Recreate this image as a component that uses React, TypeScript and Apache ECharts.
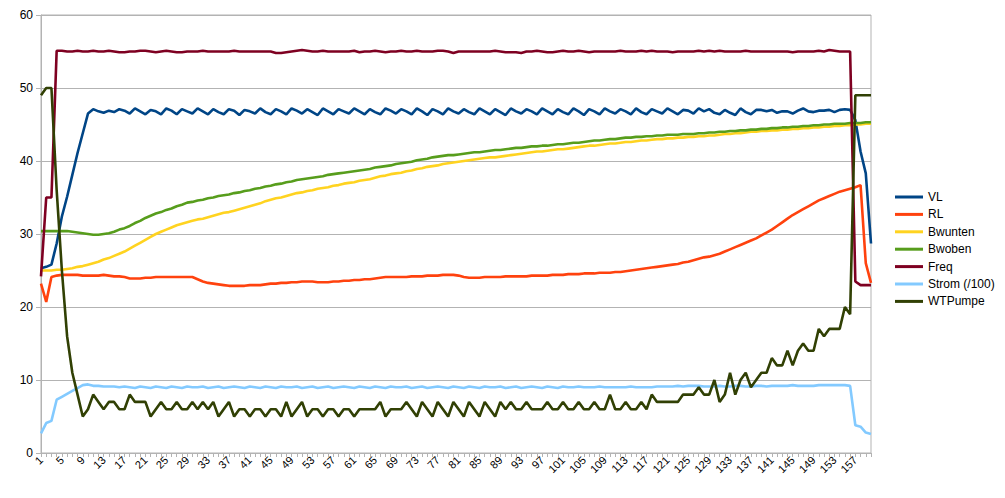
import React, { useEffect, useRef } from 'react';
import * as echarts from 'echarts';

const categories: string[] = Array.from({ length: 160 }, (_, i) => String(i + 1));

const VL = [
  25.3, 25.5, 25.8, 28.7, 32.4, 35.1, 38.1, 41.1, 43.8, 46.5,
  47.1, 46.8, 46.6, 46.9, 46.7, 47.1, 46.9, 46.5, 47.2, 46.8,
  46.4, 47.0, 46.8, 46.4, 47.2, 46.9, 46.4, 47.1, 46.8, 46.5,
  47.2, 46.8, 46.4, 47.1, 46.7, 46.4, 47.1, 46.9, 46.3, 47.0,
  46.8, 46.5, 47.2, 46.7, 46.4, 47.1, 46.8, 46.4, 47.2, 46.9,
  46.5, 47.1, 46.7, 46.3, 47.2, 46.8, 46.4, 47.1, 46.8, 46.5,
  47.2, 46.8, 46.4, 47.1, 46.7, 46.4, 47.2, 46.9, 46.5, 47.1,
  46.8, 46.4, 47.2, 46.8, 46.3, 47.1, 46.8, 46.4, 47.2, 46.8,
  46.5, 47.1, 46.7, 46.4, 47.2, 46.8, 46.4, 47.1, 46.7, 46.3,
  47.2, 46.8, 46.5, 47.1, 46.8, 46.4, 47.2, 46.8, 46.4, 47.1,
  46.7, 46.4, 47.2, 46.8, 46.3, 47.1, 46.8, 46.4, 47.2, 46.8,
  46.5, 47.1, 46.8, 46.4, 47.2, 46.7, 46.4, 47.1, 46.8, 46.5,
  47.2, 46.8, 46.4, 47.0, 46.9, 46.5, 47.2, 46.8, 47.1, 46.6,
  46.4, 47.0, 46.6, 46.3, 47.2, 46.7, 46.4, 47.0, 47.0, 46.8,
  47.0, 46.6, 46.8, 46.8, 46.5, 46.9, 47.2, 46.8, 46.7, 46.9,
  46.9, 47.0, 46.7, 47.0, 47.1, 47.0, 45.6, 41.3, 38.3, 28.7,
];

const RL = [
  23.2, 20.7, 24.1, 24.3, 24.4, 24.4, 24.4, 24.4, 24.3, 24.3,
  24.3, 24.3, 24.4, 24.3, 24.2, 24.2, 24.1, 23.9, 23.9, 23.9,
  24.0, 24.0, 24.1, 24.1, 24.1, 24.1, 24.1, 24.1, 24.1, 24.1,
  23.8, 23.5, 23.3, 23.2, 23.1, 23.0, 22.9, 22.9, 22.9, 22.9,
  23.0, 23.0, 23.0, 23.1, 23.2, 23.2, 23.3, 23.3, 23.4, 23.4,
  23.5, 23.5, 23.5, 23.4, 23.4, 23.4, 23.5, 23.5, 23.6, 23.6,
  23.7, 23.7, 23.8, 23.8, 23.9, 24.0, 24.1, 24.1, 24.1, 24.1,
  24.1, 24.2, 24.2, 24.2, 24.3, 24.3, 24.3, 24.4, 24.4, 24.4,
  24.3, 24.1, 24.0, 24.0, 24.0, 24.1, 24.1, 24.1, 24.1, 24.2,
  24.2, 24.2, 24.2, 24.2, 24.3, 24.3, 24.3, 24.3, 24.4, 24.4,
  24.4, 24.5, 24.5, 24.5, 24.6, 24.6, 24.6, 24.7, 24.7, 24.7,
  24.8, 24.8, 24.9, 25.0, 25.1, 25.2, 25.3, 25.4, 25.5, 25.6,
  25.7, 25.8, 25.9, 26.1, 26.2, 26.4, 26.6, 26.8, 26.9, 27.1,
  27.3, 27.6, 27.9, 28.2, 28.5, 28.8, 29.1, 29.4, 29.8, 30.2,
  30.6, 31.1, 31.6, 32.1, 32.6, 33.0, 33.4, 33.8, 34.2, 34.6,
  34.9, 35.2, 35.5, 35.8, 36.0, 36.2, 36.4, 36.7, 26.0, 23.3,
];

const Bwunten = [
  25.0, 25.0, 25.0, 25.1, 25.1, 25.2, 25.3, 25.5, 25.6, 25.8,
  26.0, 26.2, 26.5, 26.7, 27.0, 27.3, 27.6, 28.0, 28.4, 28.8,
  29.2, 29.6, 30.0, 30.3, 30.6, 30.9, 31.2, 31.4, 31.6, 31.8,
  32.0, 32.1, 32.3, 32.5, 32.7, 32.9, 33.0, 33.2, 33.4, 33.6,
  33.8, 34.0, 34.2, 34.5, 34.7, 34.9, 35.0, 35.2, 35.4, 35.6,
  35.7, 35.9, 36.0, 36.2, 36.3, 36.4, 36.6, 36.7, 36.9, 37.0,
  37.1, 37.3, 37.4, 37.5, 37.7, 37.9, 38.0, 38.2, 38.3, 38.4,
  38.6, 38.7, 38.9, 39.0, 39.2, 39.3, 39.4, 39.6, 39.7, 39.8,
  39.9, 40.0, 40.1, 40.2, 40.3, 40.4, 40.5, 40.5, 40.6, 40.7,
  40.8, 40.9, 41.0, 41.1, 41.2, 41.3, 41.3, 41.4, 41.5, 41.6,
  41.6, 41.7, 41.8, 41.9, 42.0, 42.1, 42.1, 42.2, 42.3, 42.4,
  42.4, 42.5, 42.6, 42.6, 42.7, 42.8, 42.8, 42.9, 43.0, 43.0,
  43.1, 43.1, 43.2, 43.2, 43.3, 43.3, 43.4, 43.4, 43.5, 43.5,
  43.6, 43.7, 43.7, 43.8, 43.8, 43.9, 44.0, 44.0, 44.1, 44.1,
  44.2, 44.2, 44.3, 44.3, 44.4, 44.4, 44.5, 44.5, 44.6, 44.6,
  44.7, 44.7, 44.8, 44.8, 44.9, 44.9, 45.0, 45.0, 45.1, 45.1,
];

const Bwoben = [
  30.4, 30.4, 30.4, 30.4, 30.4, 30.4, 30.3, 30.2, 30.1, 30.0,
  29.9, 29.9, 30.0, 30.1, 30.3, 30.6, 30.8, 31.1, 31.5, 31.8,
  32.2, 32.5, 32.8, 33.0, 33.3, 33.5, 33.8, 34.0, 34.3, 34.4,
  34.6, 34.7, 34.9, 35.0, 35.2, 35.3, 35.4, 35.6, 35.7, 35.9,
  36.0, 36.2, 36.3, 36.5, 36.6, 36.8, 36.9, 37.1, 37.2, 37.4,
  37.5, 37.6, 37.7, 37.8, 37.9, 38.1, 38.2, 38.3, 38.4, 38.5,
  38.6, 38.7, 38.8, 38.9, 39.1, 39.2, 39.3, 39.4, 39.6, 39.7,
  39.8, 39.9, 40.1, 40.2, 40.3, 40.5, 40.6, 40.7, 40.8, 40.8,
  40.9, 41.0, 41.1, 41.2, 41.2, 41.3, 41.4, 41.5, 41.5, 41.6,
  41.7, 41.8, 41.8, 41.9, 42.0, 42.0, 42.1, 42.1, 42.2, 42.3,
  42.3, 42.4, 42.5, 42.5, 42.6, 42.7, 42.8, 42.8, 42.9, 43.0,
  43.0, 43.1, 43.2, 43.2, 43.3, 43.3, 43.4, 43.4, 43.5, 43.5,
  43.6, 43.6, 43.6, 43.7, 43.7, 43.7, 43.8, 43.8, 43.9, 43.9,
  44.0, 44.0, 44.1, 44.1, 44.2, 44.2, 44.3, 44.3, 44.4, 44.4,
  44.5, 44.5, 44.6, 44.6, 44.7, 44.7, 44.8, 44.8, 44.9, 44.9,
  45.0, 45.0, 45.1, 45.1, 45.1, 45.2, 45.2, 45.2, 45.3, 45.3,
];

const Freq = [
  24.2, 35.0, 35.0, 55.1, 55.1, 55.0, 55.0, 55.1, 55.0, 55.0,
  55.1, 55.0, 55.0, 55.1, 55.0, 54.9, 54.9, 55.0, 55.0, 55.1,
  55.1, 55.0, 54.9, 55.0, 55.1, 55.0, 54.9, 54.9, 55.0, 55.0,
  55.0, 55.1, 55.0, 55.0, 55.0, 55.0, 55.0, 55.1, 55.0, 55.0,
  55.0, 55.0, 55.0, 55.0, 55.0, 54.8, 54.8, 54.9, 55.0, 55.1,
  55.2, 55.1, 55.0, 55.0, 55.1, 55.0, 55.0, 55.0, 55.0, 55.0,
  55.1, 54.9, 55.0, 55.0, 55.1, 55.0, 54.9, 55.0, 55.0, 55.1,
  55.0, 55.0, 55.1, 55.0, 55.0, 55.0, 55.1, 55.1, 55.0, 54.8,
  55.0, 55.0, 55.0, 55.0, 55.0, 55.0, 55.0, 55.1, 55.0, 54.9,
  54.9, 54.9, 54.8, 55.0, 55.0, 55.1, 55.0, 54.9, 54.9, 55.0,
  55.1, 55.0, 55.0, 55.1, 55.0, 54.9, 55.0, 55.0, 55.0, 55.0,
  55.0, 55.1, 55.0, 55.0, 55.0, 55.1, 55.0, 55.1, 55.0, 55.0,
  55.0, 54.9, 55.0, 55.0, 55.0, 55.0, 55.1, 55.0, 55.1, 55.0,
  55.1, 55.0, 55.0, 55.0, 55.0, 55.1, 55.0, 55.0, 55.0, 55.0,
  55.0, 55.0, 55.0, 55.0, 54.9, 55.0, 55.0, 55.0, 55.0, 55.1,
  55.0, 55.2, 55.1, 55.0, 55.0, 55.0, 23.5, 23.0, 23.0, 23.0,
];

const Strom = [
  2.7, 4.1, 4.4, 7.3, 7.7, 8.1, 8.5, 8.9, 9.3, 9.4,
  9.2, 9.2, 9.1, 9.1, 9.1, 9.0, 9.1, 9.0, 8.9, 9.1,
  9.0, 8.9, 9.1, 9.0, 8.9, 9.1, 9.0, 8.9, 9.1, 9.0,
  9.0, 9.1, 8.9, 9.0, 9.1, 8.9, 9.0, 9.1, 9.0, 8.9,
  9.1, 9.0, 8.9, 9.1, 9.0, 8.9, 9.1, 9.0, 9.0, 9.1,
  8.9, 9.0, 9.1, 8.9, 9.0, 9.1, 8.9, 9.0, 9.1, 9.0,
  8.9, 9.1, 9.0, 8.9, 9.1, 9.0, 8.9, 9.1, 9.0, 9.0,
  9.1, 8.9, 9.0, 9.1, 8.9, 9.0, 9.1, 9.0, 8.9, 9.1,
  9.0, 8.9, 9.1, 9.0, 8.9, 9.1, 9.0, 9.0, 9.1, 8.9,
  9.0, 9.1, 8.9, 9.0, 9.1, 9.0, 8.9, 9.1, 9.0, 8.9,
  9.1, 9.0, 9.0, 9.1, 9.0, 9.0, 9.0, 9.1, 9.0, 9.0,
  9.0, 9.0, 9.0, 9.1, 9.0, 9.0, 9.0, 9.0, 9.1, 9.1,
  9.1, 9.1, 9.2, 9.1, 9.2, 9.2, 9.2, 9.1, 9.1, 9.1,
  9.2, 9.1, 9.1, 9.2, 9.2, 9.1, 9.1, 9.2, 9.2, 9.1,
  9.2, 9.2, 9.2, 9.2, 9.3, 9.2, 9.2, 9.2, 9.2, 9.3,
  9.3, 9.3, 9.3, 9.3, 9.3, 9.2, 3.8, 3.6, 2.8, 2.6,
];

const WTPumpe = [
  49, 50, 50, 36, 25, 16, 11, 8, 5, 6,
  8, 7, 6, 7, 7, 6, 6, 8, 7, 7,
  7, 5, 6, 7, 6, 6, 7, 6, 6, 7,
  6, 7, 6, 7, 5, 6, 7, 5, 6, 6,
  5, 6, 6, 5, 6, 6, 5, 7, 5, 6,
  7, 5, 6, 6, 5, 6, 6, 5, 6, 6,
  5, 6, 6, 6, 6, 7, 5, 6, 6, 6,
  7, 6, 5, 7, 6, 5, 7, 6, 5, 7,
  6, 5, 7, 6, 5, 7, 6, 5, 7, 6,
  7, 6, 6, 7, 6, 6, 6, 7, 6, 6,
  7, 6, 6, 7, 6, 6, 7, 6, 6, 8,
  6, 6, 7, 6, 6, 7, 6, 8, 7, 7,
  7, 7, 7, 8, 8, 8, 9, 8, 8, 10,
  7, 8, 11, 8, 10, 11, 9, 10, 11, 11,
  13, 12, 12, 14, 12, 14, 15, 14, 14, 17,
  16, 17, 17, 17, 20, 19, 49, 49, 49, 49,
];

const seriesNames = ['VL', 'RL', 'Bwunten', 'Bwoben', 'Freq', 'Strom (/100)', 'WTPumpe'];
const seriesData = [VL, RL, Bwunten, Bwoben, Freq, Strom, WTPumpe];
const seriesColors = ['#004586', '#ff420e', '#ffd320', '#579d1c', '#7e0021', '#83caff', '#314004'];

export default function App() {
  const ref = useRef<HTMLDivElement>(null);
  useEffect(() => {
    const chart = echarts.init(ref.current!, null, { renderer: 'svg' });
    chart.setOption({
      animation: false,
      backgroundColor: '#ffffff',
      textStyle: { fontFamily: 'Liberation Sans, Arial, sans-serif' },
      grid: {
        left: 41,
        right: 134,
        top: 15,
        bottom: 45,
        show: true,
        borderColor: '#b3b3b3',
        borderWidth: 1,
        backgroundColor: 'transparent',
      },
      legend: {
        orient: 'vertical',
        left: 895,
        top: 190,
        padding: 0,
        icon: 'rect',
        itemWidth: 28,
        itemHeight: 3,
        itemGap: 3.4,
        textStyle: { fontSize: 12, color: '#000', lineHeight: 14, fontFamily: 'Liberation Sans, Arial, sans-serif' },
        data: seriesNames,
      },
      xAxis: {
        type: 'category',
        data: categories,
        boundaryGap: false,
        axisLine: { lineStyle: { color: '#b3b3b3' } },
        axisTick: { show: true, interval: 0, length: 4, lineStyle: { color: '#b3b3b3' } },
        axisLabel: { interval: 3, rotate: 45, fontSize: 11, color: '#000', margin: 5 },
        splitLine: { show: false },
      },
      yAxis: {
        type: 'value',
        min: 0,
        max: 60,
        interval: 10,
        axisLine: { show: true, lineStyle: { color: '#b3b3b3' } },
        axisTick: { show: true, length: 5, lineStyle: { color: '#b3b3b3' } },
        axisLabel: { fontSize: 12, color: '#000', margin: 8 },
        splitLine: { lineStyle: { color: '#b3b3b3' } },
      },
      series: seriesNames.map((name, idx) => ({
        name,
        type: 'line',
        data: seriesData[idx],
        symbol: 'none',
        showSymbol: false,
        color: seriesColors[idx],
        lineStyle: { width: 2.6, color: seriesColors[idx] },
      })),
    });
    return () => chart.dispose();
  }, []);
  return (
    <div
      ref={ref}
      style={{ position: 'fixed', left: 0, top: 0, width: 1005, height: 498, background: '#fff' }}
    />
  );
}
